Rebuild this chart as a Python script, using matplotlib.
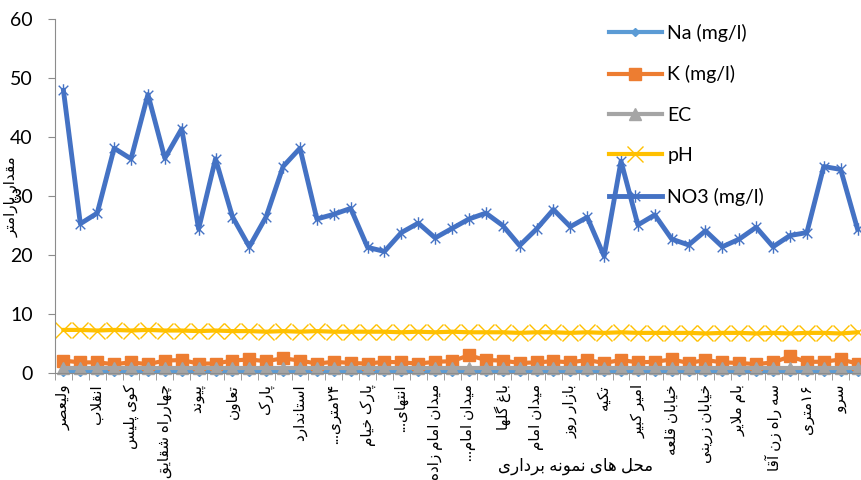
import re
import numpy as np
import matplotlib
matplotlib.use('Agg')
import matplotlib.pyplot as plt
import matplotlib.transforms as mtransforms
from matplotlib.path import Path

# labelled sampling sites (every second category is labelled on the axis)
site_labels = ['ولیعصر', 'انقلاب', 'کوی پلیس', 'چهارراه شقایق', 'پیوند', 'تعاون',
               'پارک', 'استاندارد', '۲۴متری...', 'پارک خیام', 'انتهای...',
               'میدان امام زاده', 'میدان امام...', 'باغ گلها', 'میدان امام',
               'بازار روز', 'تکیه', 'امیر کبیر', 'خیابان قلعه', 'خیابان زرینی',
               'بام ملایر', 'سه راه زن آقا', '۱۶متری', 'سرو']

na = [0.1, 0.1, 0.1, 0.1, 0.1, 0.1, 0.1, 0.1, 0.1, 0.1, 0.1, 0.1,
      0.1, 0.1, 0.1, 0.1, 0.1, 0.1, 0.1, 0.1, 0.1, 0.1, 0.1, 0.1,
      0.1, 0.1, 0.1, 0.1, 0.1, 0.1, 0.1, 0.1, 0.1, 0.1, 0.1, 0.1,
      0.1, 0.1, 0.1, 0.1, 0.1, 0.1, 0.1, 0.1, 0.1, 0.1, 0.1, 0.1]
k = [2.1, 1.8, 1.8, 1.5, 1.8, 1.5, 2.1, 2.2, 1.6, 1.6, 2.1, 2.3,
     2.0, 2.5, 2.1, 1.6, 1.9, 1.7, 1.6, 1.9, 1.8, 1.6, 1.9, 2.0,
     3.0, 2.2, 2.1, 1.7, 1.8, 2.0, 1.8, 2.2, 1.7, 2.2, 1.8, 1.9,
     2.3, 1.7, 2.2, 1.8, 1.7, 1.5, 1.8, 2.8, 1.9, 1.9, 2.3, 1.6]
ec = [0.9, 0.9, 0.9, 0.9, 0.9, 0.9, 0.9, 0.9, 0.9, 0.9, 0.9, 0.9,
      0.9, 0.9, 0.9, 0.9, 0.9, 0.9, 0.9, 0.9, 0.9, 0.9, 0.9, 0.9,
      0.9, 0.9, 0.9, 0.9, 0.9, 0.9, 0.9, 0.9, 0.9, 0.9, 0.9, 0.9,
      0.9, 0.9, 0.9, 0.9, 0.9, 0.9, 0.9, 0.9, 0.9, 0.9, 0.9, 0.9]
ph = [7.3, 7.3, 7.2, 7.3, 7.2, 7.3, 7.2, 7.2, 7.1, 7.2, 7.1, 7.1,
      7.0, 7.1, 7.0, 7.1, 7.0, 7.0, 7.0, 7.0, 6.9, 7.0, 6.9, 7.0,
      6.9, 6.9, 6.9, 6.8, 6.9, 6.9, 6.8, 6.9, 6.8, 6.9, 6.8, 6.8,
      6.8, 6.8, 6.7, 6.8, 6.8, 6.7, 6.8, 6.7, 6.8, 6.8, 6.7, 6.9]
no3 = [47.9, 25.3, 27.1, 38.1, 36.3, 47.2, 36.4, 41.4, 24.4, 36.3, 26.5, 21.4,
       26.5, 35.0, 38.1, 26.1, 26.9, 27.9, 21.3, 20.6, 23.8, 25.4, 22.9, 24.5,
       26.1, 27.1, 25.0, 21.6, 24.4, 27.7, 24.8, 26.4, 19.8, 35.9, 25.1, 26.8,
       22.7, 21.7, 24.1, 21.4, 22.7, 24.7, 21.4, 23.3, 23.8, 35.0, 34.5, 24.4]

# matplotlib has no arabic shaping, so do it by hand with presentation forms
FORMS = {
    'ا': 'ﺍﺎ', 'آ': 'ﺁﺂ', 'د': 'ﺩﺪ', 'ذ': 'ﺫﺬ', 'ر': 'ﺭﺮ', 'ز': 'ﺯﺰ',
    'ژ': 'ﮊﮋ', 'و': 'ﻭﻮ',
    'ب': 'ﺏﺐﺑﺒ', 'پ': 'ﭖﭗﭘﭙ', 'ت': 'ﺕﺖﺗﺘ', 'ث': 'ﺙﺚﺛﺜ', 'ج': 'ﺝﺞﺟﺠ',
    'چ': 'ﭺﭻﭼﭽ', 'ح': 'ﺡﺢﺣﺤ', 'خ': 'ﺥﺦﺧﺨ', 'س': 'ﺱﺲﺳﺴ', 'ش': 'ﺵﺶﺷﺸ',
    'ص': 'ﺹﺺﺻﺼ', 'ض': 'ﺽﺾﺿﻀ', 'ط': 'ﻁﻂﻃﻄ', 'ظ': 'ﻅﻆﻇﻈ', 'ع': 'ﻉﻊﻋﻌ',
    'غ': 'ﻍﻎﻏﻐ', 'ف': 'ﻑﻒﻓﻔ', 'ق': 'ﻕﻖﻗﻘ', 'ک': 'ﮎﮏﮐﮑ', 'گ': 'ﮒﮓﮔﮕ',
    'ل': 'ﻝﻞﻟﻠ', 'م': 'ﻡﻢﻣﻤ', 'ن': 'ﻥﻦﻧﻨ', 'ه': 'ﻩﻪﻫﻬ', 'ی': 'ﯼﯽﯾﯿ',
}


def shape(s):
    out = []
    i = 0
    prev = None
    while i < len(s):
        ch = s[i]
        nxt = s[i + 1] if i + 1 < len(s) else None
        joins_prev = prev in FORMS and len(FORMS[prev]) == 4
        if ch == 'ل' and nxt == 'ا':
            out.append('ﻼ' if joins_prev else 'ﻻ')
            prev = 'ا'
            i += 2
            continue
        if ch in FORMS:
            f = FORMS[ch]
            joins_next = len(f) == 4 and nxt in FORMS
            if joins_prev and joins_next:
                out.append(f[3])
            elif joins_prev:
                out.append(f[1])
            elif joins_next:
                out.append(f[2])
            else:
                out.append(f[0])
        else:
            out.append(ch)
        prev = ch
        i += 1
    shaped = ''.join(out)
    runs = re.findall(r'[0-9۰-۹]+|[^0-9۰-۹]+', shaped)
    return ''.join(r if r[0].isdigit() else r[::-1] for r in reversed(runs))


plt.rcParams['font.family'] = ['Lato', 'DejaVu Sans']

star = Path([(-1, -1), (1, 1), (-1, 1), (1, -1), (0, -1.3), (0, 1.3)],
            [Path.MOVETO, Path.LINETO] * 3)

fig = plt.figure(figsize=(8.61, 4.8), dpi=100)
ax = fig.add_axes([55 / 861, 1 - 373 / 480, 811 / 861, 354 / 480])

x = np.arange(len(no3))
ax.plot(x, na, color='#5B9BD5', lw=3, marker='D', ms=4, label='Na (mg/l)', clip_on=False)
ax.plot(x, k, color='#ED7D31', lw=3, marker='s', ms=9, label='K (mg/l)', clip_on=False)
ax.plot(x, ec, color='#A5A5A5', lw=3, marker='^', ms=9, label='EC', clip_on=False)
ax.plot(x, ph, color='#FFC000', lw=3, marker='x', ms=11, mew=1, label='pH', clip_on=False)
ax.plot(x, no3, color='#4472C4', lw=3.5, marker=star, ms=9, mew=1, label='NO3 (mg/l)', clip_on=False)

ax.set_xlim(-0.5, len(no3) - 0.5)
ax.set_ylim(0, 60)
ax.set_yticks(range(0, 61, 10))

for sp in ['top', 'right']:
    ax.spines[sp].set_visible(False)
for sp in ['left', 'bottom']:
    ax.spines[sp].set_color('#8c8c8c')

ax.set_xticks(range(0, len(no3), 2))
ax.set_xticklabels([shape(s) for s in site_labels], rotation=90, fontsize=11, va='top', ha='center')
# excel draws the category labels a little right of the point
shift = mtransforms.ScaledTranslation(5 / 100, 0, fig.dpi_scale_trans)
for lbl in ax.get_xticklabels():
    lbl.set_transform(lbl.get_transform() + shift)
ax.set_xticks(np.arange(-0.5, len(no3), 1), minor=True)
ax.tick_params(axis='x', which='major', length=0, pad=8)
ax.tick_params(axis='x', which='minor', length=5, color='#8c8c8c')
ax.tick_params(axis='y', length=5, color='#8c8c8c', labelsize=14, pad=11)

fig.text(12 / 861, 1 - 197 / 480, shape('مقدار پارامتر'), rotation=90, fontsize=11,
         ha='center', va='center')
fig.text(575 / 861, 1 - 466 / 480, shape('محل های نمونه برداری'), fontsize=12,
         ha='center', va='center')

ax.legend(loc='upper left', bbox_to_anchor=(609 / 861, 1 - 24 / 480),
          bbox_transform=fig.transFigure, frameon=False, fontsize=14,
          handlelength=2.7, handletextpad=0.3, labelspacing=1.2,
          borderpad=0, borderaxespad=0, numpoints=1)

fig.savefig('out.png', dpi=100)
